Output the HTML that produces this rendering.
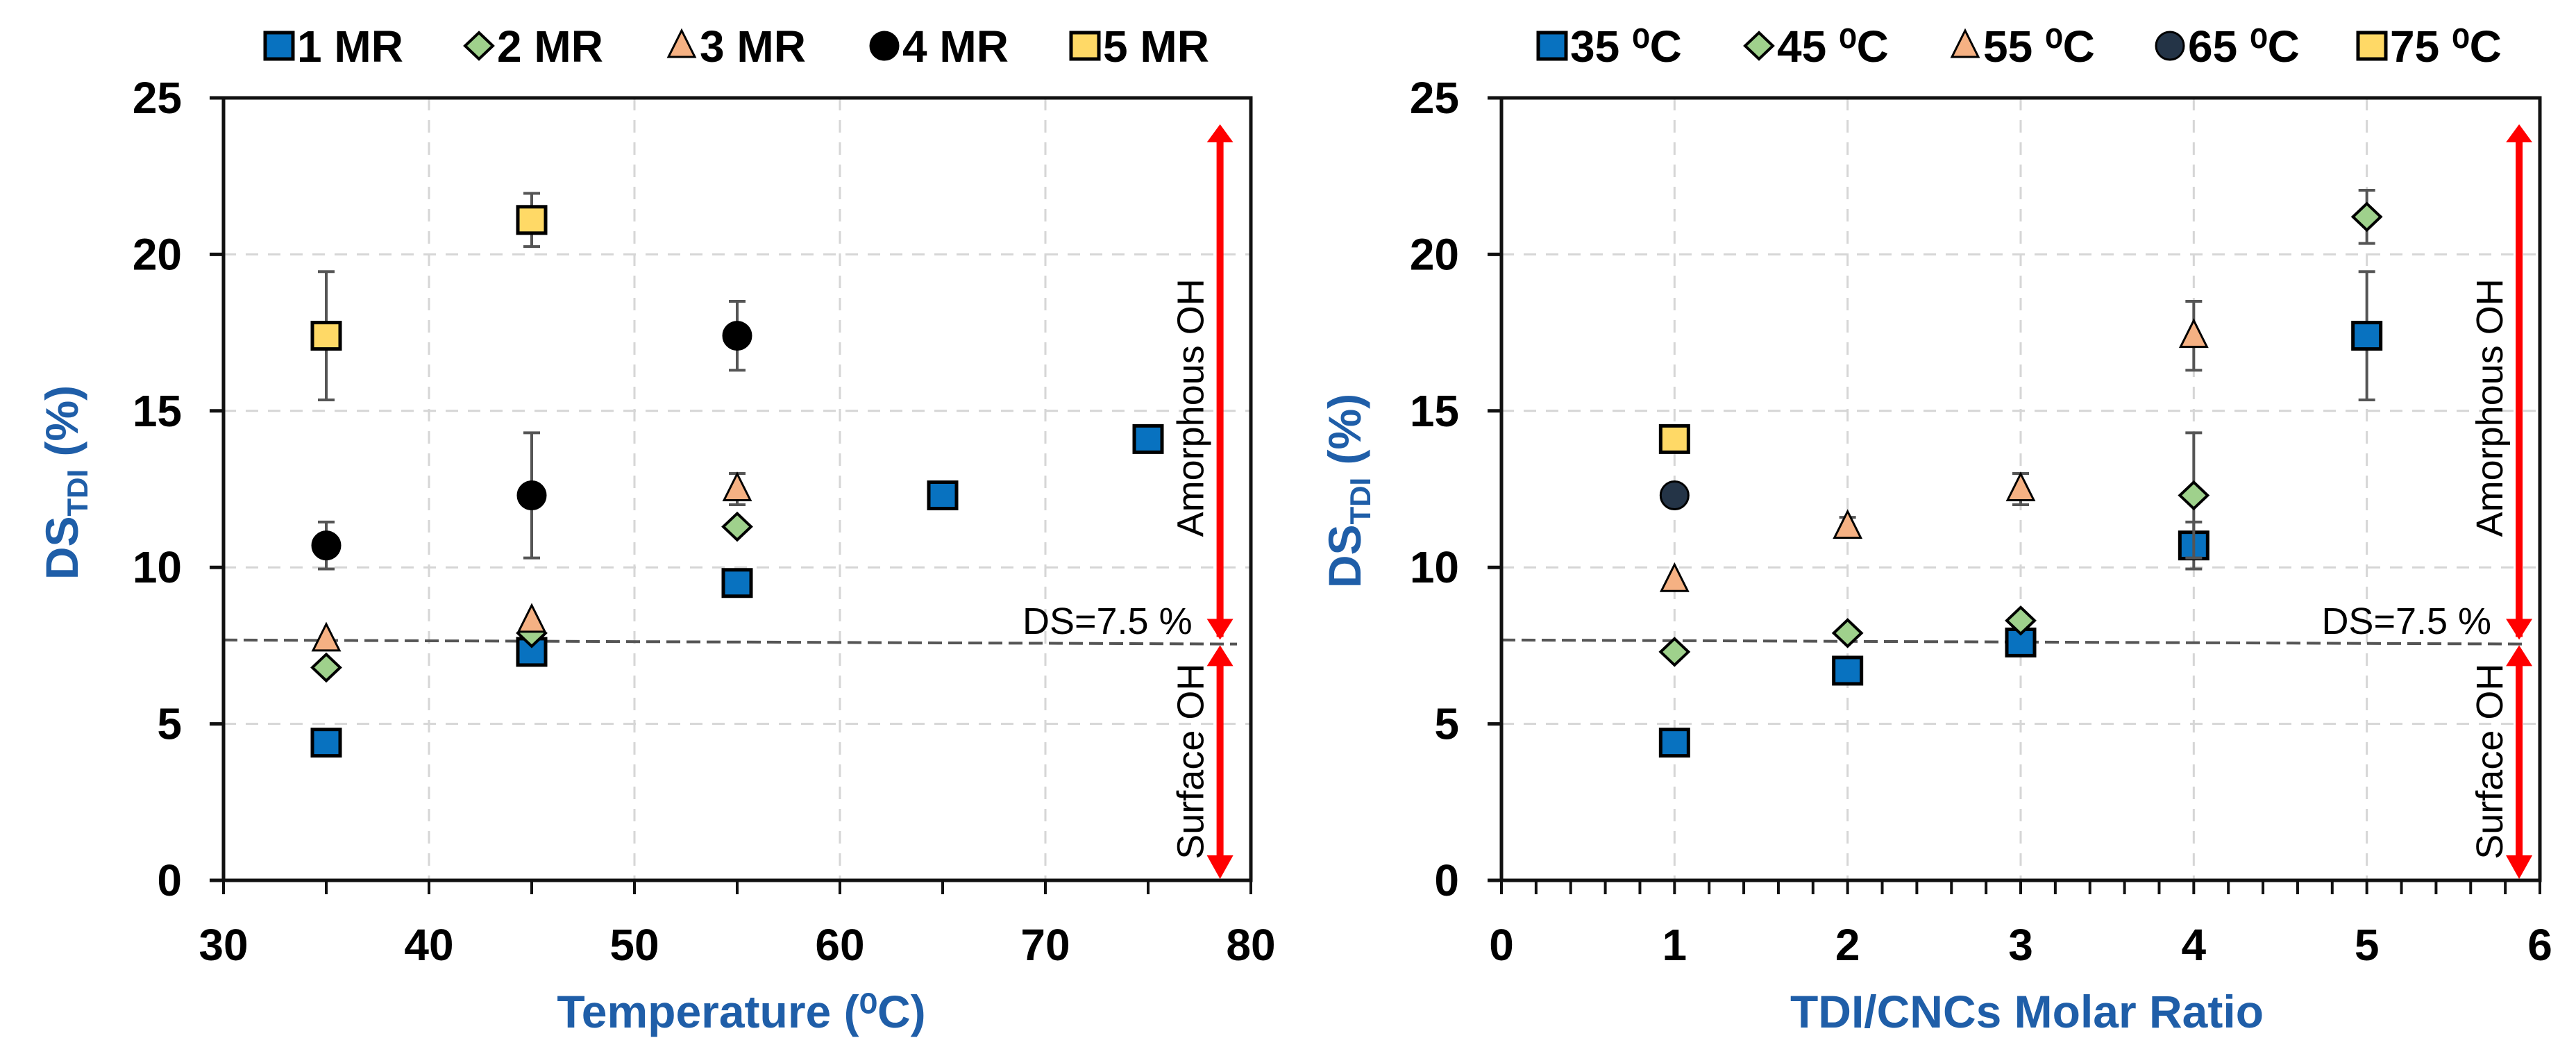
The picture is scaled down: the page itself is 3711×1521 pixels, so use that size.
<!DOCTYPE html>
<html><head><meta charset="utf-8"><style>
html,body{margin:0;padding:0;background:#fff;}
svg{display:block;font-family:"Liberation Sans",Arial,sans-serif;}
</style></head><body>
<svg id="fig" width="3711" height="1521" viewBox="0 0 3711 1521" xmlns="http://www.w3.org/2000/svg"></svg>
<script>
// ---- Left chart data (Temperature) ----
const leftXTicks = [30, 40, 50, 60, 70, 80];
const yTicks = [0, 5, 10, 15, 20, 25];
const leftSeriesNames = ["1 MR", "2 MR", "3 MR", "4 MR", "5 MR"];
const leftMR1X = [35, 45, 55, 65, 75];
const leftMR1Y = [4.4, 7.3, 9.5, 12.3, 14.1];
const leftMR2X = [35, 45, 55];
const leftMR2Y = [6.8, 7.9, 11.3];
const leftMR3X = [35, 45, 55];
const leftMR3Y = [7.7, 8.3, 12.5];
const leftMR3Err = [0, 0, 0.5];
const leftMR4X = [35, 45, 55];
const leftMR4Y = [10.7, 12.3, 17.4];
const leftMR4Err = [0.75, 2.0, 1.1];
const leftMR5X = [35, 45];
const leftMR5Y = [17.4, 21.1];
const leftMR5Err = [2.05, 0.85];
// ---- Right chart data (Molar ratio) ----
const rightXTicks = [0, 1, 2, 3, 4, 5, 6];
const rightSeriesNames = ["35 ⁰C", "45 ⁰C", "55 ⁰C", "65 ⁰C", "75 ⁰C"];
const r35X = [1, 2, 3, 4, 5];
const r35Y = [4.4, 6.7, 7.6, 10.7, 17.4];
const r35Err = [0, 0, 0, 0.75, 2.05];
const r45X = [1, 2, 3, 4, 5];
const r45Y = [7.3, 7.9, 8.3, 12.3, 21.2];
const r45Err = [0, 0, 0, 2.0, 0.85];
const r55X = [1, 2, 3, 4];
const r55Y = [9.6, 11.3, 12.5, 17.4];
const r55Err = [0, 0.3, 0.5, 1.1];
const r65X = [1];
const r65Y = [12.3];
const r75X = [1];
const r75Y = [14.1];
const threshold = 7.5;

const NS = "http://www.w3.org/2000/svg";
const svg = document.getElementById("fig");
function mk(tag, attrs, parent, text){
  const e = document.createElementNS(NS, tag);
  for (const k in attrs) e.setAttribute(k, attrs[k]);
  if (text !== undefined) e.textContent = text;
  (parent || svg).appendChild(e);
  return e;
}
const COL = {blue:"#0872c0", green:"#9fd18c", orange:"#f5b183", black:"#000", navy:"#243447", yellow:"#ffd966"};

function marker(g, shape, cx, cy, fill, name){
  let e;
  if (shape === "square") e = mk("rect", {x:cx-20, y:cy-19, width:40, height:38, fill:fill, stroke:"#000", "stroke-width":5}, g);
  else if (shape === "diamond") e = mk("polygon", {points:`${cx},${cy-19} ${cx+20},${cy} ${cx},${cy+19} ${cx-20},${cy}`, fill:fill, stroke:"#000", "stroke-width":4}, g);
  else if (shape === "triangle") e = mk("polygon", {points:`${cx},${cy-22} ${cx+19},${cy+16} ${cx-19},${cy+16}`, fill:fill, stroke:"#000", "stroke-width":3}, g);
  else e = mk("circle", {cx:cx, cy:cy, r:20, fill:fill, stroke:"#000", "stroke-width":3}, g);
  
  
  return e;
}

function chart(opt){
  const {x0, x1, xmin, xmax, prefix} = opt;
  const y0 = 1268, y1 = 141;
  const sx = v => x0 + (v - xmin) / (xmax - xmin) * (x1 - x0);
  const sy = v => y0 - v / 25 * (y0 - y1);
  const g = mk("g", {});
  
  
  // grid
  const grid = mk("g", {stroke:"#d6d6d6", "stroke-width":3, "stroke-dasharray":"18,14"}, g);
  
  
  opt.xTicks.forEach(t => { if (t > xmin && t < xmax) mk("line", {x1:sx(t), y1:y1, x2:sx(t), y2:y0}, grid); });
  yTicks.forEach(t => { if (t > 0 && t < 25) mk("line", {x1:x0, y1:sy(t), x2:x1, y2:sy(t)}, grid); });
  // threshold dashed line
  const th = mk("line", {x1:x0, y1:sy(threshold+0.18), x2:x1-20, y2:sy(threshold+0.05), stroke:"#555", "stroke-width":4, "stroke-dasharray":"20,9"}, g);
  
  
  // box
  const box = mk("rect", {x:x0, y:y1, width:x1-x0, height:y0-y1, fill:"none", stroke:"#111", "stroke-width":5}, g);
  
  
  // y ticks
  yTicks.forEach(t => {
    mk("line", {x1:x0-20, y1:sy(t), x2:x0, y2:sy(t), stroke:"#111", "stroke-width":5}, g);
    const tl = mk("text", {x:opt.yLabelX, y:sy(t)+22, "text-anchor":"end", "font-size":64, "font-weight":"bold"}, g, String(t));
    
    
  });
  // x ticks
  const step = opt.minor;
  for (let v = xmin; v <= xmax + 1e-9; v += step) {
    mk("line", {x1:sx(v), y1:y0, x2:sx(v), y2:y0+20, stroke:"#111", "stroke-width":4}, g);
  }
  opt.xTicks.forEach(t => {
    const tl = mk("text", {x:sx(t), y:1383, "text-anchor":"middle", "font-size":64, "font-weight":"bold"}, g, String(t));
    
    
  });
  // axis titles
  const xt = mk("text", {x:opt.xTitleX, y:1480, "text-anchor":"middle", "font-size":66, "font-weight":"bold", fill:"#1f5ea8"}, g, opt.xTitle);
  
  
  const yt = mk("text", {transform:`translate(${opt.yTitleX},${opt.yTitleY}) rotate(-90)`, "text-anchor":"middle", "font-size":66, "font-weight":"bold", fill:"#1f5ea8"}, g);
  mk("tspan", {}, yt, "DS");
  mk("tspan", {"font-size":42, dy:14}, yt, "TDI");
  mk("tspan", {dy:-14}, yt, " (%)");
  
  
  // red arrows
  const ax = sx(opt.arrowX);
  const ar = mk("g", {fill:"#ff0000", stroke:"none"}, g);
  
  
  const top = 179, mid = sy(threshold+0.1), bot = y0-2;
  mk("rect", {x:ax-5, y:top+25, width:10, height:mid-8-25-(top+25)+25}, ar);
  mk("polygon", {points:`${ax},${top} ${ax+19},${top+26} ${ax-19},${top+26}`}, ar);
  mk("polygon", {points:`${ax},${mid-4} ${ax+19},${mid-34} ${ax-19},${mid-34}`}, ar);
  mk("rect", {x:ax-5, y:mid+30, width:10, height:bot-30-(mid+30)}, ar);
  mk("polygon", {points:`${ax},${mid+4} ${ax+19},${mid+34} ${ax-19},${mid+34}`}, ar);
  mk("polygon", {points:`${ax},${bot} ${ax+19},${bot-34} ${ax-19},${bot-34}`}, ar);
  const am = mk("text", {transform:`translate(${ax-24},${sy(15.1)}) rotate(-90)`, "text-anchor":"middle", "font-size":54}, g, "Amorphous OH");
  
  
  const sf = mk("text", {transform:`translate(${ax-24},${sy(3.8)}) rotate(-90)`, "text-anchor":"middle", "font-size":54}, g, "Surface OH");
  
  
  const ds = mk("text", {x:ax-40, y:sy(threshold)-17, "text-anchor":"end", "font-size":54}, g, "DS=7.5 %");
  
  
  // series
  opt.series.forEach(s => {
    const sg = mk("g", {}, g);
    
    
    s.xs.forEach((xv, i) => {
      const cx = sx(xv), cy = sy(s.ys[i]);
      const e = s.err ? s.err[i] : 0;
      if (e > 0) {
        const eb = mk("g", {stroke:"#555", "stroke-width":4}, sg);
        
        
        mk("line", {x1:cx, y1:sy(s.ys[i]-e), x2:cx, y2:sy(s.ys[i]+e)}, eb);
        mk("line", {x1:cx-12, y1:sy(s.ys[i]-e), x2:cx+12, y2:sy(s.ys[i]-e)}, eb);
        mk("line", {x1:cx-12, y1:sy(s.ys[i]+e), x2:cx+12, y2:sy(s.ys[i]+e)}, eb);
      }
      marker(sg, s.shape, cx, cy, s.fill, prefix + '-point-' + s.key);
    });
  });
  // legend
  opt.series.forEach((s, i) => {
    const lg = mk("g", {}, g);
    
    
    const mx = opt.legendX[i];
    marker(lg, s.shape, mx, 66, s.fill, prefix + '-legend-marker');
    const t = mk("text", {x:mx+26, y:89, "font-size":64, "font-weight":"bold"}, lg, opt.names[i]);
    
    
  });
}

chart({
  prefix:"left", x0:322, x1:1802, xmin:30, xmax:80, xTicks:leftXTicks, minor:5,
  yLabelX:262, xTitle:"Temperature (⁰C)", xTitleX:1068, yTitleX:112, yTitleY:695, arrowX:78.5,
  legendX:[402, 690, 982, 1274, 1563], names:leftSeriesNames,
  series:[
    {key:"1mr", xs:leftMR1X, ys:leftMR1Y, shape:"square", fill:COL.blue},
    {key:"2mr", xs:leftMR2X, ys:leftMR2Y, shape:"diamond", fill:COL.green},
    {key:"3mr", xs:leftMR3X, ys:leftMR3Y, err:leftMR3Err, shape:"triangle", fill:COL.orange},
    {key:"4mr", xs:leftMR4X, ys:leftMR4Y, err:leftMR4Err, shape:"circle", fill:COL.black},
    {key:"5mr", xs:leftMR5X, ys:leftMR5Y, err:leftMR5Err, shape:"square", fill:COL.yellow}
  ]
});
chart({
  prefix:"right", x0:2163, x1:3659, xmin:0, xmax:6, xTicks:rightXTicks, minor:0.2,
  yLabelX:2102, xTitle:"TDI/CNCs Molar Ratio", xTitleX:2920, yTitleX:1960, yTitleY:707, arrowX:5.88,
  legendX:[2236, 2534, 2831, 3126, 3417], names:rightSeriesNames,
  series:[
    {key:"35c", xs:r35X, ys:r35Y, err:r35Err, shape:"square", fill:COL.blue},
    {key:"45c", xs:r45X, ys:r45Y, err:r45Err, shape:"diamond", fill:COL.green},
    {key:"55c", xs:r55X, ys:r55Y, err:r55Err, shape:"triangle", fill:COL.orange},
    {key:"65c", xs:r65X, ys:r65Y, shape:"circle", fill:COL.navy},
    {key:"75c", xs:r75X, ys:r75Y, shape:"square", fill:COL.yellow}
  ]
});
</script>
</body></html>
